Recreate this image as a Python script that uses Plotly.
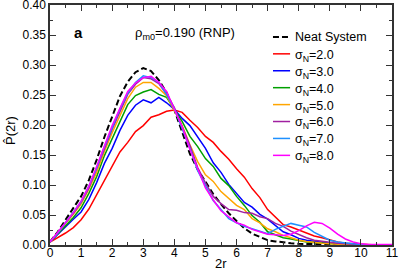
import numpy as np
import plotly.graph_objects as go

# x grid (2r) at 0.25 steps
x = [round(0.25 * i, 2) for i in range(45)]

neat = [0.005, 0.022, 0.042, 0.062, 0.081, 0.108, 0.142, 0.180, 0.215, 0.248, 0.272, 0.288, 0.295,
        0.290, 0.275, 0.254, 0.225, 0.190, 0.152, 0.126, 0.105, 0.085, 0.068, 0.053, 0.040, 0.028,
        0.019, 0.013, 0.008, 0.006, 0.004, 0.003, 0.002, 0.002, 0.001, 0.001, 0.001, 0.0, 0.0,
        0.0, 0.0, 0.0, 0.0, 0.0, 0.0]
s2 = [0.005, 0.012, 0.020, 0.029, 0.042, 0.060, 0.084, 0.109, 0.132, 0.155, 0.171, 0.189, 0.199,
      0.213, 0.217, 0.223, 0.225, 0.221, 0.208, 0.196, 0.181, 0.171, 0.156, 0.143, 0.127, 0.113,
      0.094, 0.079, 0.059, 0.046, 0.034, 0.030, 0.025, 0.021, 0.015, 0.012, 0.008, 0.005, 0.003,
      0.002, 0.001, 0.001, 0.0, 0.0, 0.0]
s3 = [0.005, 0.018, 0.030, 0.043, 0.055, 0.076, 0.104, 0.136, 0.161, 0.191, 0.216, 0.233, 0.242,
      0.237, 0.246, 0.237, 0.226, 0.211, 0.199, 0.181, 0.161, 0.137, 0.121, 0.101, 0.086, 0.071,
      0.063, 0.051, 0.043, 0.032, 0.022, 0.017, 0.011, 0.008, 0.006, 0.004, 0.003, 0.002, 0.001,
      0.001, 0.0, 0.0, 0.0, 0.0, 0.0]
s4 = [0.005, 0.018, 0.032, 0.046, 0.062, 0.086, 0.114, 0.149, 0.177, 0.206, 0.234, 0.249, 0.255,
      0.259, 0.251, 0.246, 0.227, 0.206, 0.181, 0.164, 0.144, 0.131, 0.111, 0.099, 0.081, 0.066,
      0.049, 0.038, 0.022, 0.017, 0.012, 0.010, 0.007, 0.005, 0.004, 0.003, 0.002, 0.001, 0.001,
      0.0, 0.0, 0.0, 0.0, 0.0, 0.0]
s5 = [0.005, 0.020, 0.035, 0.051, 0.068, 0.093, 0.121, 0.156, 0.187, 0.216, 0.244, 0.263, 0.271,
      0.271, 0.261, 0.249, 0.224, 0.199, 0.167, 0.139, 0.117, 0.106, 0.089, 0.077, 0.066, 0.059,
      0.044, 0.037, 0.027, 0.022, 0.016, 0.012, 0.008, 0.006, 0.004, 0.003, 0.002, 0.001, 0.001,
      0.0, 0.0, 0.0, 0.0, 0.0, 0.0]
s6 = [0.005, 0.020, 0.037, 0.053, 0.071, 0.095, 0.127, 0.160, 0.193, 0.222, 0.251, 0.268, 0.279,
      0.277, 0.269, 0.251, 0.229, 0.197, 0.166, 0.129, 0.103, 0.081, 0.069, 0.059, 0.058, 0.054,
      0.053, 0.047, 0.044, 0.036, 0.031, 0.023, 0.017, 0.012, 0.008, 0.006, 0.004, 0.003, 0.002,
      0.001, 0.001, 0.0, 0.0, 0.0, 0.0]
s7 = [0.005, 0.020, 0.037, 0.055, 0.072, 0.098, 0.128, 0.164, 0.196, 0.227, 0.253, 0.271, 0.282,
      0.279, 0.271, 0.251, 0.227, 0.194, 0.161, 0.124, 0.098, 0.074, 0.059, 0.044, 0.037, 0.031,
      0.027, 0.023, 0.019, 0.026, 0.031, 0.036, 0.033, 0.030, 0.021, 0.014, 0.008, 0.005, 0.003,
      0.002, 0.001, 0.0, 0.0, 0.0, 0.0]
s8 = [0.005, 0.021, 0.037, 0.054, 0.073, 0.098, 0.131, 0.165, 0.199, 0.228, 0.256, 0.270, 0.279,
      0.281, 0.271, 0.256, 0.227, 0.197, 0.159, 0.126, 0.095, 0.075, 0.057, 0.047, 0.037, 0.033,
      0.026, 0.022, 0.018, 0.017, 0.016, 0.018, 0.024, 0.032, 0.038, 0.036, 0.028, 0.018, 0.010,
      0.005, 0.002, 0.001, 0.001, 0.001, 0.001]

series = [
    ("Neat System", neat, "black", "6px,3px"),
    ("σ<sub>N</sub>=2.0", s2, "#ff0000", "solid"),
    ("σ<sub>N</sub>=3.0", s3, "#0000ff", "solid"),
    ("σ<sub>N</sub>=4.0", s4, "#00a000", "solid"),
    ("σ<sub>N</sub>=5.0", s5, "#ffa500", "solid"),
    ("σ<sub>N</sub>=6.0", s6, "#a020a0", "solid"),
    ("σ<sub>N</sub>=7.0", s7, "#1e90ff", "solid"),
    ("σ<sub>N</sub>=8.0", s8, "#ff00ff", "solid"),
]

FONT = "Liberation Sans, Arial, Helvetica, sans-serif"
fig = go.Figure()
for name, ys, col, dash in series:
    fig.add_trace(go.Scatter(x=x, y=ys, mode="lines", name=name, showlegend=False,
                             line=dict(color=col, width=2 if dash != "solid" else 1.5, dash=dash)))

# manual legend (paper coords)
row0 = 0.867
step = 0.0705
for i, (name, ys, col, dash) in enumerate(series):
    yy = row0 - i * step
    fig.add_shape(type="line", xref="paper", yref="paper", x0=0.652, x1=0.702, y0=yy, y1=yy,
                  line=dict(color=col, width=2 if dash != "solid" else 1.5, dash=dash))
    fig.add_annotation(xref="paper", yref="paper", x=0.71, y=yy + (0.0 if i == 0 else -0.008),
                       text=name, showarrow=False, xanchor="left", yanchor="middle",
                       font=dict(size=12.5, color="black", family=FONT))

fig.add_annotation(xref="paper", yref="paper", x=0.082, y=0.8875, text="<b>a</b>", showarrow=False,
                   xanchor="center", yanchor="middle", font=dict(size=15, color="black", family=FONT))
fig.add_annotation(xref="paper", yref="paper", x=0.243, y=0.88, text="ρ<sub>m0</sub>=0.190 (RNP)",
                   showarrow=False, xanchor="left", yanchor="middle",
                   font=dict(size=13, color="black", family=FONT))
# axis titles
fig.add_annotation(xref="paper", yref="paper", x=0.5, y=-0.075, text="2r", showarrow=False,
                   xanchor="center", yanchor="middle", font=dict(size=13, color="black", family=FONT))
fig.add_annotation(xref="paper", yref="paper", x=-0.117, y=0.479, text="P\u0302(2r)", showarrow=False,
                   textangle=-90, xanchor="center", yanchor="middle",
                   font=dict(size=13, color="black", family=FONT))

axis_common = dict(showline=True, linecolor="#333333", linewidth=1.5, mirror="allticks",
                   ticks="inside", ticklen=6, tickwidth=1.2, tickcolor="#333333",
                   showgrid=False, zeroline=False, automargin=False,
                   tickfont=dict(size=12, color="black", family=FONT))
fig.update_xaxes(range=[0, 11], dtick=1, tick0=0, ticklabeloverflow="allow", ticklabelstandoff=-4,
                 minor=dict(dtick=0.5, ticks="inside", ticklen=3, tickcolor="#333333"),
                 **axis_common)
fig.update_yaxes(range=[0, 0.4], dtick=0.05, tick0=0, tickformat=".2f", ticklabeloverflow="allow",
                 minor=dict(dtick=0.025, ticks="inside", ticklen=3, tickcolor="#333333"),
                 **axis_common)
fig.update_layout(width=399, height=272, margin=dict(l=50, r=7, t=5, b=27),
                  plot_bgcolor="white", paper_bgcolor="white", font=dict(family=FONT))
fig.write_html("out.html", config={"displayModeBar": False},
               post_script="document.body.style.margin='0';document.body.style.overflow='hidden';")
